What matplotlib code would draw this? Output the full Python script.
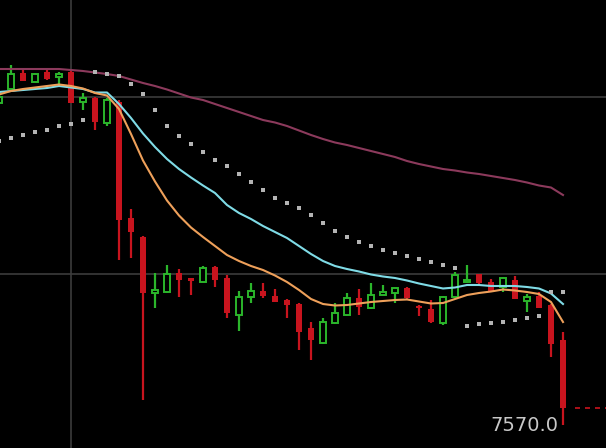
import matplotlib
matplotlib.use("Agg")
import matplotlib.pyplot as plt
import numpy as np

# candle data (one bar per slot, oldest first)
opens = [7892, 7906, 7922, 7913, 7923, 7918, 7923, 7893, 7897, 7872,
         7893, 7777, 7758, 7702, 7703, 7722, 7717, 7713, 7728, 7717,
         7680, 7698, 7704, 7699, 7695, 7691, 7667, 7652, 7672, 7680,
         7697, 7687, 7700, 7702, 7707, 7689, 7686, 7672, 7698, 7713,
         7721, 7713, 7708, 7715, 7694, 7699, 7690, 7655]
highs = [7900, 7930, 7925, 7922, 7925, 7923, 7925, 7902, 7898, 7897,
         7895, 7786, 7759, 7722, 7730, 7726, 7717, 7729, 7729, 7720,
         7704, 7712, 7712, 7706, 7696, 7692, 7673, 7677, 7692, 7702,
         7706, 7712, 7710, 7707, 7708, 7690, 7695, 7699, 7723, 7730,
         7721, 7716, 7718, 7719, 7701, 7703, 7691, 7663]
lows = [7891, 7905, 7914, 7913, 7915, 7909, 7892, 7885, 7865, 7869,
        7735, 7737, 7595, 7687, 7702, 7698, 7700, 7713, 7708, 7677,
        7664, 7692, 7697, 7693, 7677, 7645, 7635, 7651, 7671, 7679,
        7680, 7686, 7700, 7692, 7696, 7679, 7672, 7670, 7697, 7712,
        7711, 7704, 7703, 7696, 7683, 7687, 7638, 7570]
closes = [7898, 7921, 7914, 7921, 7916, 7921, 7892, 7897, 7873, 7895,
          7775, 7763, 7702, 7705, 7721, 7715, 7714, 7727, 7715, 7682,
          7698, 7704, 7699, 7693, 7690, 7663, 7655, 7673, 7682, 7697,
          7688, 7700, 7703, 7707, 7697, 7687, 7673, 7698, 7720, 7715,
          7712, 7704, 7717, 7696, 7698, 7687, 7651, 7587]

# moving averages
ma_fast = [7900.5, 7904, 7906, 7907.5, 7909, 7910.5, 7909, 7906.5, 7902, 7899.5,
           7886, 7861, 7834.5, 7813.5, 7794.5, 7779.5, 7767.5, 7758, 7749, 7740,
           7734, 7729, 7725, 7719.5, 7713, 7705, 7696, 7691, 7689.5, 7690,
           7691.5, 7693, 7694, 7695, 7695.5, 7693.5, 7691.5, 7692, 7696, 7700,
           7702, 7703.5, 7705.5, 7704.5, 7703, 7701, 7693, 7673]
ma_mid = [7903, 7904, 7905, 7906, 7907, 7909, 7907.5, 7906, 7902.5, 7902.5,
          7891, 7877, 7861.5, 7848, 7836, 7826, 7817.5, 7809.5, 7802, 7790,
          7782, 7776, 7769, 7763, 7757, 7749, 7741, 7734, 7729, 7726,
          7723.5, 7720.5, 7718.5, 7717, 7714.5, 7711.5, 7709, 7706.5, 7707.5, 7710,
          7710, 7709, 7709, 7709, 7708, 7706.5, 7701.5, 7691]
ma_slow = [7926, 7926, 7926, 7926, 7926, 7926, 7925, 7924, 7922.5, 7921,
           7919, 7915.5, 7912, 7909, 7905.5, 7901.5, 7897.5, 7895, 7891, 7887,
           7883, 7879, 7875, 7872.5, 7869, 7864.5, 7860, 7856, 7852.5, 7850,
           7847, 7844, 7841, 7838, 7834, 7831, 7828.5, 7826, 7824.5, 7822.5,
           7821, 7819, 7817, 7815, 7812.5, 7809.5, 7807.5, 7800]

# parabolic SAR
sar = [7854, 7857, 7860.5, 7863, 7865, 7869, 7871, 7875, 7923, 7921,
       7919, 7911, 7901, 7885, 7869.5, 7859, 7851, 7843, 7835, 7829,
       7821, 7813, 7805, 7797.5, 7792.5, 7787, 7780, 7772, 7764, 7758,
       7753, 7749, 7745, 7742, 7739, 7736.5, 7733, 7730.5, 7727, 7669,
       7671.5, 7672.5, 7673.5, 7675.5, 7677.5, 7679, 7703, 7703]

grid_prices = [7898, 7721]
cursor_bar = 6
low_label = "7570.0"

UP = "#2bb52b"
DOWN = "#c8141e"

fig = plt.figure(figsize=(6.06, 4.48), dpi=100, facecolor="black")
ax = fig.add_axes([0, 0, 1, 1])
ax.set_facecolor("black")

x = np.arange(len(opens))

for p in grid_prices:
    ax.axhline(p, color="#3c3c3c", lw=1.2, zorder=0)
ax.axvline(x[cursor_bar], color="#3c3c3c", lw=1.2, zorder=0)

for i in x:
    o, h, l, c = opens[i], highs[i], lows[i], closes[i]
    up = c >= o
    col = UP if up else DOWN
    ax.vlines(i, l, h, color=col, lw=1.6, zorder=2)
    bottom = min(o, c)
    height = max(abs(c - o), 1.2)
    if up:
        ax.bar(i, height, bottom=bottom, width=0.42, facecolor="black",
               edgecolor=col, linewidth=1.4, zorder=3)
    else:
        ax.bar(i, height, bottom=bottom, width=0.5, color=col, zorder=3)

ax.plot(x, ma_slow, color="#8c3a5c", lw=1.5, zorder=4)
ax.plot(x, ma_mid, color="#7fdbe6", lw=1.5, zorder=4)
ax.plot(x, ma_fast, color="#eea05a", lw=1.5, zorder=4)

ax.scatter(x, sar, marker="s", s=9, color="#b4b4b4", linewidths=0, zorder=5)

# last price line
ax.plot([48.0, 50.6], [closes[-1], closes[-1]], color=DOWN, lw=1.2,
        ls=(0, (3, 3)), zorder=4)

ax.text(46.6, lows[-1], low_label, color="#c8c8c8", fontsize=14,
        ha="right", va="center", zorder=6)

ax.set_xlim(1 / 12, 607 / 12)
ax.set_ylim(7547, 7995)
ax.axis("off")

fig.savefig("out.png", dpi=100, facecolor="black")
